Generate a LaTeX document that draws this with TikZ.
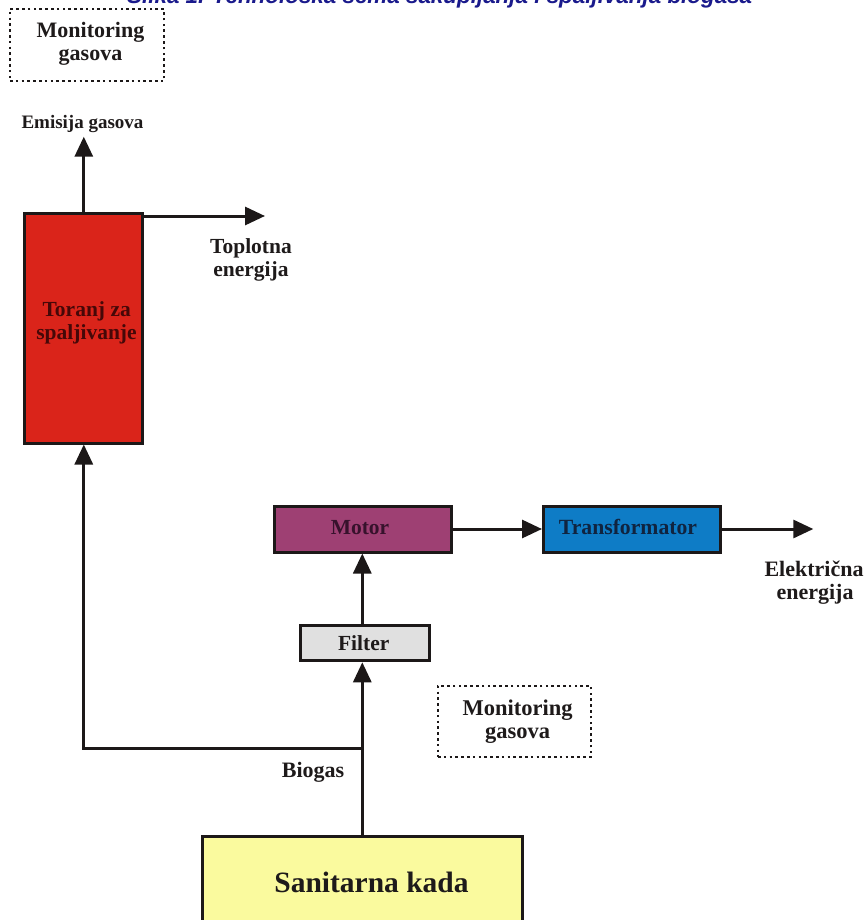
\documentclass[tikz,border=0pt]{standalone}
\usepackage{fontspec}
\setmainfont{Liberation Serif}
\newfontfamily\titlefont{Liberation Sans}
\usetikzlibrary{arrows.meta}
\definecolor{towerred}{RGB}{218,36,26}
\definecolor{towertxt}{RGB}{70,8,8}
\definecolor{motorfill}{RGB}{158,64,115}
\definecolor{motortxt}{RGB}{55,18,44}
\definecolor{trafofill}{RGB}{14,124,198}
\definecolor{trafotxt}{RGB}{16,36,64}
\definecolor{filterfill}{RGB}{224,224,224}
\definecolor{sanfill}{RGB}{250,250,158}
\definecolor{titleblue}{RGB}{26,26,140}
\definecolor{txt}{RGB}{30,26,26}
\definecolor{edge}{RGB}{28,24,24}
\begin{document}
\begin{tikzpicture}[x=1pt,y=-1pt,
  box/.style={draw=edge, line width=3pt, inner sep=0pt},
  mon/.style={draw=edge, line width=2.6pt, dash pattern=on 2.6pt off 3.2pt, inner sep=0pt},
  arr/.style={draw=edge, line width=3pt, -{Triangle[length=20pt,width=18pt]}},
  lbl/.style={inner sep=0pt, anchor=base, text=txt}
]
\path[use as bounding box] (0,0) rectangle (866,920);
\clip (0,0) rectangle (866,920);
\fill[white] (0,0) rectangle (866,920);

% title (clipped at top, as in the reference)
\node[font=\titlefont\bfseries\itshape\fontsize{22.4}{26}\selectfont, text=titleblue,
      anchor=base west, inner sep=0pt] (title) at (127,3.5)
  {Slika 1. Tehnološka šema sakupljanja i spaljivanja biogasa};

% boxes
\node[mon, minimum width=154pt, minimum height=72pt] (mon1) at (87,45) {};
\node[box, fill=towerred, minimum width=118pt, minimum height=230pt] (tower) at (83.8,328) {};
\node[box, fill=motorfill, minimum width=177pt, minimum height=46pt] (motor) at (363.3,529) {};
\node[box, fill=trafofill, minimum width=177pt, minimum height=46pt] (trafo) at (632,529) {};
\node[box, fill=filterfill, minimum width=129pt, minimum height=35pt] (filter) at (365.3,643.3) {};
\node[mon, minimum width=153pt, minimum height=71pt] (mon2) at (514.5,721.3) {};
\node[box, fill=sanfill, minimum width=320pt, minimum height=124pt] (san) at (362.9,898) {};

% free ends
\coordinate (emis) at (83.8,136.7);
\coordinate (toplo) at (265,216);
\coordinate (elec) at (813.3,529);
\coordinate (jn) at (362.3,748);

% connectors
\draw[arr] (tower.north) -- (emis);
\draw[arr] (tower.east |- toplo) -- (toplo);
\draw[arr] (san.north -| jn) -- (filter.south -| jn);
\draw[arr] (filter.north -| jn) -- (motor.south -| jn);
\draw[arr] (jn) -| (tower.south);
\draw[arr] (motor.east) -- (trafo.west);
\draw[arr] (trafo.east) -- (elec);

% labels
\node[lbl, font=\bfseries\fontsize{22}{26}\selectfont] (mon1a) at (90.5,38) {Monitoring};
\node[lbl, font=\bfseries\fontsize{22}{26}\selectfont] (mon1b) at (90.5,61) {gasova};
\node[lbl, font=\bfseries\fontsize{19}{23}\selectfont] (emistxt) at (82.5,129) {Emisija gasova};
\node[lbl, font=\bfseries\fontsize{21.5}{25}\selectfont] (toplotxta) at (251,253) {Toplotna};
\node[lbl, font=\bfseries\fontsize{21.5}{25}\selectfont] (toplotxtb) at (251,276) {energija};
\node[lbl, text=towertxt, font=\bfseries\fontsize{21.5}{25}\selectfont] (towertxta) at (86.7,316.5) {Toranj za};
\node[lbl, text=towertxt, font=\bfseries\fontsize{21.5}{25}\selectfont] (towertxtb) at (86.5,339) {spaljivanje};
\node[lbl, text=motortxt, font=\bfseries\fontsize{21.5}{25}\selectfont] (motortxt) at (360,534) {Motor};
\node[lbl, text=trafotxt, font=\bfseries\fontsize{21.7}{25}\selectfont] (trafotxt) at (628,534) {Transformator};
\node[lbl, font=\bfseries\fontsize{22}{26}\selectfont] (electxta) at (814,576) {Električna};
\node[lbl, font=\bfseries\fontsize{22}{26}\selectfont] (electxtb) at (815,599) {energija};
\node[lbl, font=\bfseries\fontsize{21.5}{25}\selectfont] (filtertxt) at (363.7,650) {Filter};
\node[lbl, font=\bfseries\fontsize{22.5}{26}\selectfont] (mon2a) at (517.7,715) {Monitoring};
\node[lbl, font=\bfseries\fontsize{22.5}{26}\selectfont] (mon2b) at (517.7,738) {gasova};
\node[lbl, font=\bfseries\fontsize{22}{26}\selectfont] (biogastxt) at (313,777) {Biogas};
\node[lbl, font=\bfseries\fontsize{29.5}{34}\selectfont] (santxt) at (371.5,892.7) {Sanitarna kada};
\end{tikzpicture}
\end{document}
